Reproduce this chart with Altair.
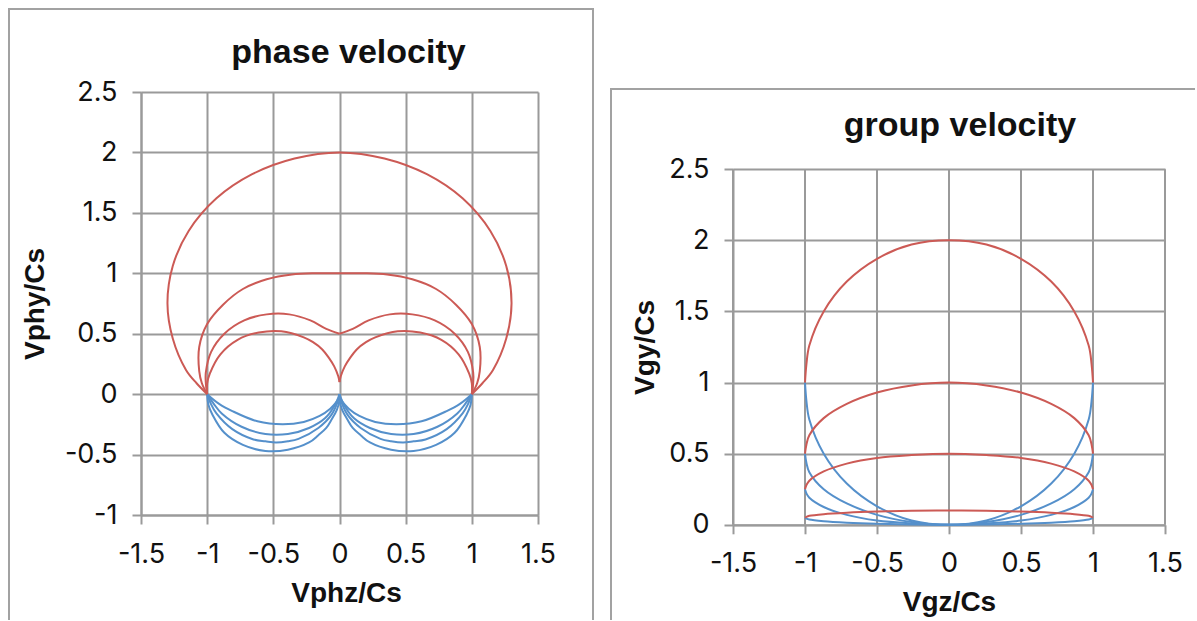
import altair as alt
import pandas as pd

# ---------------- style ----------------
RED = "#CC5A55"
BLUE = "#5590CB"
GRID = "#9A9A9A"
FRAME = "#A2A2A2"
FONT = "Liberation Sans"
LABEL_FONT = "Inter"
INK = "#111111"

# ---------------- axis ticks ----------------
X_TICKS = [-1.5, -1.0, -0.5, 0.0, 0.5, 1.0, 1.5]
PH_Y_TICKS = [-1.0, -0.5, 0.0, 0.5, 1.0, 1.5, 2.0, 2.5]
GR_Y_TICKS = [0.0, 0.5, 1.0, 1.5, 2.0, 2.5]

# ---------------- phase velocity curves ----------------
PH_RED1_X = [-1.00, -1.08, -1.16, -1.26, -1.30, -1.26, -1.14, -0.93, -0.66, -0.34, 0.00,
             0.34, 0.66, 0.93, 1.14, 1.26, 1.30, 1.26, 1.16, 1.08, 1.00]
PH_RED1_Y = [0.00, 0.09, 0.20, 0.46, 0.75, 1.06, 1.35, 1.62, 1.82, 1.95, 2.00,
             1.95, 1.82, 1.62, 1.35, 1.06, 0.75, 0.46, 0.20, 0.09, 0.00]

PH_RED2_X = [-1.00, -1.04, -1.06, -1.06, -1.00, -0.88, -0.73, -0.55, -0.36, -0.18, 0.00,
             0.18, 0.36, 0.55, 0.73, 0.88, 1.00, 1.06, 1.06, 1.04, 1.00]
PH_RED2_Y = [0.00, 0.09, 0.19, 0.39, 0.58, 0.74, 0.87, 0.95, 0.99, 1.00, 1.00,
             1.00, 0.99, 0.95, 0.87, 0.74, 0.58, 0.39, 0.19, 0.09, 0.00]

PH_RED3_X = [-1.00, -1.01, -1.01, -0.97, -0.87, -0.72, -0.55, -0.38, -0.22, -0.10, 0.00,
             0.10, 0.22, 0.38, 0.55, 0.72, 0.87, 0.97, 1.01, 1.01, 1.00]
PH_RED3_Y = [0.00, 0.09, 0.18, 0.35, 0.50, 0.61, 0.66, 0.66, 0.61, 0.54, 0.50,
             0.54, 0.61, 0.66, 0.66, 0.61, 0.50, 0.35, 0.18, 0.09, 0.00]

PH_RED4_X = [-1.00, -1.00, -0.98, -0.90, -0.77, -0.61, -0.44, -0.27, -0.20, -0.13, -0.08, -0.04, -0.01, 0.00,
             0.01, 0.04, 0.08, 0.13, 0.20, 0.27, 0.44, 0.61, 0.77, 0.90, 0.98, 1.00, 1.00]
PH_RED4_Y = [0.00, 0.09, 0.17, 0.33, 0.45, 0.51, 0.52, 0.47, 0.43, 0.37, 0.30, 0.23, 0.15, 0.10,
             0.15, 0.23, 0.30, 0.37, 0.43, 0.47, 0.52, 0.51, 0.45, 0.33, 0.17, 0.09, 0.00]

PH_BLUE1_X = [-1.00, -0.91, -0.81, -0.62, -0.43, -0.27, -0.15, -0.07, -0.02, 0.00, 0.00,
              0.00, 0.02, 0.07, 0.15, 0.27, 0.43, 0.62, 0.81, 0.91, 1.00]
PH_BLUE1_Y = [0.00, -0.08, -0.14, -0.225, -0.25, -0.23, -0.18, -0.12, -0.06, -0.02, 0.00,
              -0.02, -0.06, -0.12, -0.18, -0.23, -0.25, -0.225, -0.14, -0.08, 0.00]

PH_BLUE2_X = [-1.00, -0.95, -0.89, -0.74, -0.56, -0.39, -0.23, -0.11, -0.04, -0.01, 0.00,
              0.01, 0.04, 0.11, 0.23, 0.39, 0.56, 0.74, 0.89, 0.95, 1.00]
PH_BLUE2_Y = [0.00, -0.08, -0.16, -0.27, -0.33, -0.33, -0.28, -0.20, -0.10, -0.03, 0.00,
              -0.03, -0.10, -0.20, -0.28, -0.33, -0.33, -0.27, -0.16, -0.08, 0.00]

PH_BLUE3_X = [-1.00, -0.97, -0.93, -0.81, -0.65, -0.56, -0.48, -0.39, -0.31, -0.16, -0.06, -0.01, 0.00,
              0.01, 0.06, 0.16, 0.31, 0.39, 0.48, 0.56, 0.65, 0.81, 0.93, 0.97, 1.00]
PH_BLUE3_Y = [0.00, -0.085, -0.16, -0.29, -0.375, -0.39, -0.40, -0.39, -0.37, -0.28, -0.17, -0.05, 0.00,
              -0.05, -0.17, -0.28, -0.37, -0.39, -0.40, -0.39, -0.375, -0.29, -0.16, -0.085, 0.00]

PH_BLUE4_X = [-1.00, -0.99, -0.96, -0.87, -0.73, -0.56, -0.39, -0.23, -0.16, -0.10, -0.06, -0.02, 0.00, 0.00,
              0.00, 0.02, 0.06, 0.10, 0.16, 0.23, 0.39, 0.56, 0.73, 0.87, 0.96, 0.99, 1.00]
PH_BLUE4_Y = [0.00, -0.09, -0.17, -0.32, -0.42, -0.47, -0.46, -0.40, -0.34, -0.28, -0.21, -0.13, -0.05, 0.00,
              -0.05, -0.13, -0.21, -0.28, -0.34, -0.40, -0.46, -0.47, -0.42, -0.32, -0.17, -0.09, 0.00]

# ---------------- group velocity curves ----------------
GR_X = [-1.00, -0.99, -0.97, -0.87, -0.71, -0.50, -0.26, 0.00, 0.26, 0.50, 0.71, 0.87, 0.97, 0.99, 1.00]
GR_RED1_Y = [1.00, 1.13, 1.26, 1.50, 1.71, 1.87, 1.97, 2.00, 1.97, 1.87, 1.71, 1.50, 1.26, 1.13, 1.00]
GR_RED2_Y = [0.50, 0.565, 0.63, 0.75, 0.85, 0.93, 0.98, 1.00, 0.98, 0.93, 0.85, 0.75, 0.63, 0.565, 0.50]
GR_RED3_Y = [0.25, 0.28, 0.31, 0.375, 0.43, 0.47, 0.49, 0.50, 0.49, 0.47, 0.43, 0.375, 0.31, 0.28, 0.25]
GR_RED4_Y = [0.05, 0.056, 0.063, 0.075, 0.085, 0.093, 0.098, 0.10, 0.098, 0.093, 0.085, 0.075, 0.063, 0.056, 0.05]
GR_BLUE1_Y = [1.00, 0.87, 0.74, 0.50, 0.29, 0.13, 0.03, 0.00, 0.03, 0.13, 0.29, 0.50, 0.74, 0.87, 1.00]
GR_BLUE2_Y = [0.50, 0.435, 0.37, 0.25, 0.15, 0.07, 0.02, 0.00, 0.02, 0.07, 0.15, 0.25, 0.37, 0.435, 0.50]
GR_BLUE3_Y = [0.25, 0.22, 0.19, 0.125, 0.07, 0.03, 0.01, 0.00, 0.01, 0.03, 0.07, 0.125, 0.19, 0.22, 0.25]
GR_BLUE4_Y = [0.05, 0.044, 0.037, 0.025, 0.015, 0.007, 0.002, 0.00, 0.002, 0.007, 0.015, 0.025, 0.037, 0.044, 0.05]


def curves(specs):
    """specs: (color, xs, ys, cusp) -- cusp is the index of a sharp corner (or None);
    the curve is drawn as two pieces meeting there so the corner stays sharp."""
    rows = []
    for k, (color, xs, ys, cusp) in enumerate(specs):
        for i, (x, y) in enumerate(zip(xs, ys)):
            pieces = [0] if cusp is None else ([0] if i < cusp else [1] if i > cusp else [0, 1])
            for p in pieces:
                rows.append({"color": color, "k": f"{k}-{p}", "i": i, "x": x, "y": y})
    return pd.DataFrame(rows)


phase_df = curves([
    (BLUE, PH_BLUE1_X, PH_BLUE1_Y, 10), (BLUE, PH_BLUE2_X, PH_BLUE2_Y, 10),
    (BLUE, PH_BLUE3_X, PH_BLUE3_Y, 12), (BLUE, PH_BLUE4_X, PH_BLUE4_Y, 13),
    (RED, PH_RED1_X, PH_RED1_Y, None), (RED, PH_RED2_X, PH_RED2_Y, None),
    (RED, PH_RED3_X, PH_RED3_Y, 10), (RED, PH_RED4_X, PH_RED4_Y, 13),
])
group_df = curves([
    (BLUE, GR_X, GR_BLUE1_Y, None), (BLUE, GR_X, GR_BLUE2_Y, None),
    (BLUE, GR_X, GR_BLUE3_Y, None), (BLUE, GR_X, GR_BLUE4_Y, None),
    (RED, GR_X, GR_RED1_Y, None), (RED, GR_X, GR_RED2_Y, None),
    (RED, GR_X, GR_RED3_Y, None), (RED, GR_X, GR_RED4_Y, None),
])
xgrid_df = pd.DataFrame({"x": X_TICKS})

# ---------------- layout (pixels, page coordinates) ----------------
TOP = 91.5                       # both panels' group origins share this row
L_X0, L_W, L_H = 140.5, 397, 423
R_X0, R_W = 732.0, 432
R_PLOT_TOP, R_PLOT_BOTTOM = 168.7, 524.3
R_H = R_PLOT_BOTTOM - TOP        # group height; plot drawn in its lower part
R_RANGE_TOP = R_PLOT_TOP - TOP
SPLIT = 600.0

ONE = alt.Data(values=[{"a": 1}])


def rule(ox, x1, y1, x2, y2, color=FRAME, width=2, opacity=1.0):
    return alt.Chart(ONE).mark_rule(color=color, strokeWidth=width, strokeOpacity=opacity,
                                    strokeCap="square").encode(
        x=alt.value(x1 - ox), y=alt.value(y1 - TOP),
        x2=alt.value(x2 - ox), y2=alt.value(y2 - TOP))


def title_text(ox, text, cx, baseline_y):
    return alt.Chart(ONE).mark_text(text=text, font=FONT, fontSize=34, fontWeight="bold",
                                    color=INK, align="center", baseline="alphabetic").encode(
        x=alt.value(cx - ox), y=alt.value(baseline_y - TOP))


def x_axis(title, title_x, grid=True):
    return alt.Axis(values=X_TICKS, title=title, grid=grid, gridColor=GRID, gridWidth=2,
                    domainColor=GRID, domainWidth=2, tickColor=GRID, tickWidth=2, tickSize=9,
                    labelFont=LABEL_FONT, labelFontSize=27, labelColor=INK, labelPadding=17,
                    labelFlush=False, labelOverlap=False, labelExpr="'' + datum.value",
                    titleFont=FONT, titleFontSize=28, titleFontWeight="bold", titleColor=INK,
                    titleX=title_x, titleY=86, titleAlign="center", titleBaseline="alphabetic")


def y_axis(title, ticks, title_x, title_y):
    return alt.Axis(values=ticks, title=title, grid=True, gridColor=GRID, gridWidth=2,
                    domainColor=GRID, domainWidth=2, tickColor=GRID, tickWidth=2, tickSize=9,
                    labelFont=LABEL_FONT, labelFontSize=27, labelColor=INK, labelPadding=15,
                    labelFlush=False, labelOverlap=False, labelExpr="'' + datum.value",
                    titleFont=FONT, titleFontSize=28, titleFontWeight="bold", titleColor=INK,
                    titleX=title_x, titleY=title_y, titleAngle=270, titleAlign="center",
                    titleBaseline="alphabetic")


def enc_x(xax):
    return alt.X("x:Q", scale=alt.Scale(domain=[-1.5, 1.5], nice=False, zero=False), axis=xax)


def enc_y(ydom, yax, yrange=None):
    if yrange is None:
        sc = alt.Scale(domain=ydom, nice=False, zero=False)
    else:
        sc = alt.Scale(domain=ydom, nice=False, zero=False, range=yrange)
    return alt.Y("y:Q", scale=sc, axis=yax)


def lines(df, xenc, yenc):
    return alt.Chart(df).mark_line(interpolate="catmull-rom", strokeWidth=2).encode(
        x=xenc, y=yenc, detail="k:N", order="i:Q",
        color=alt.Color("color:N", scale=None),
    )


# ---------- left panel ----------
left = alt.layer(
    lines(phase_df, enc_x(x_axis("Vphz/Cs", 205)),
          enc_y([-1.0, 2.5], y_axis("Vphy/Cs", PH_Y_TICKS, -98, L_H / 2))),
    title_text(L_X0, "phase velocity", 348, 62),
    rule(L_X0, 8.5, 8.5, 8.5, 618.5),
    rule(L_X0, 8.5, 8.5, 592.5, 8.5),
    rule(L_X0, 592.5, 8.5, 592.5, 618.5),
    rule(L_X0, 0, 0, 0, 0, opacity=0),
    rule(L_X0, SPLIT, 0, SPLIT, 0, opacity=0),
).properties(width=L_W, height=L_H)

# ---------- right panel ----------
r_xenc = enc_x(x_axis("Vgz/Cs", 216, grid=False))
r_yenc = enc_y([0.0, 2.5], y_axis("Vgy/Cs", GR_Y_TICKS, -80, (R_RANGE_TOP + R_H) / 2),
               yrange=[R_H, R_RANGE_TOP])

r_xgrid = alt.Chart(xgrid_df).mark_rule(color=GRID, strokeWidth=2).encode(
    x=r_xenc, y=alt.value(R_RANGE_TOP), y2=alt.value(R_H))

right = alt.layer(
    r_xgrid,
    lines(group_df, r_xenc, r_yenc),
    title_text(R_X0, "group velocity", 959, 135),
    rule(R_X0, 610, 88.5, 610, 618.5),
    rule(R_X0, 610, 88.5, 1193, 88.5),
    rule(R_X0, SPLIT, 0, SPLIT, 0, opacity=0),
).properties(width=R_W, height=R_H)

chart = alt.concat(left, right, columns=2, spacing=0, align="none").properties(
    padding=0).configure_view(stroke=None)

chart.save("out.html", embed_options={"renderer": "svg", "actions": False})
